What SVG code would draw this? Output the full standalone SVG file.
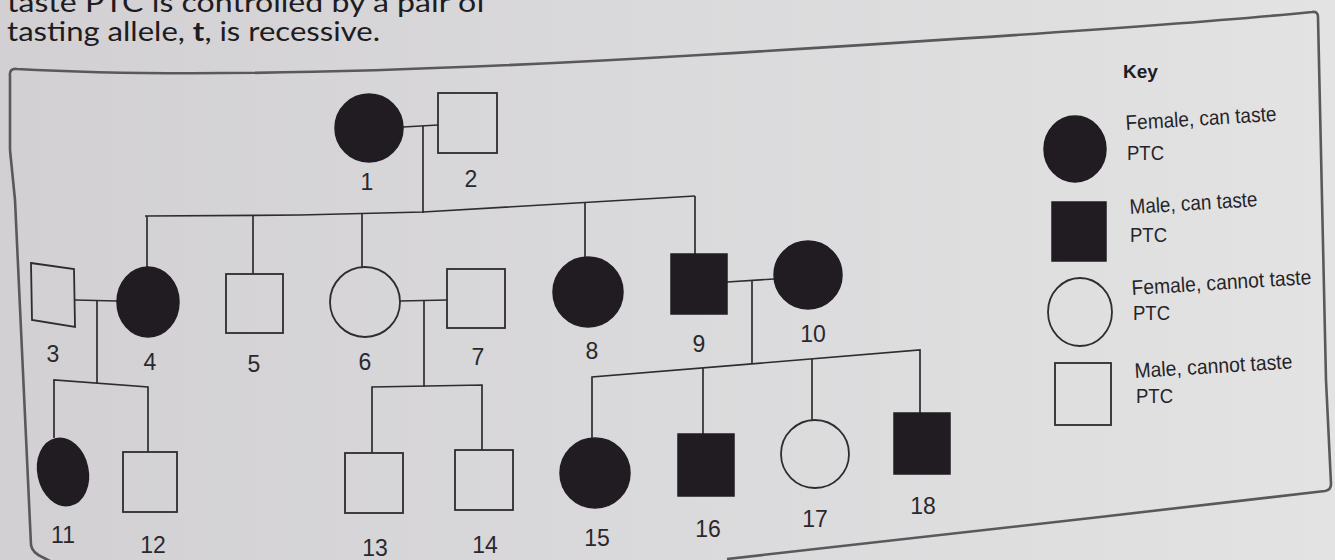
<svg xmlns="http://www.w3.org/2000/svg" width="1335" height="560" viewBox="0 0 1335 560">
<defs>
<linearGradient id="paper" x1="0" y1="0" x2="1" y2="0">
<stop offset="0" stop-color="#d2d0d3"/>
<stop offset="0.5" stop-color="#dad9db"/>
<stop offset="1" stop-color="#e3e3e3"/>
</linearGradient>
<style>
.hdr{font-family:Lato,"Open Sans","Liberation Sans",sans-serif;font-size:26px;fill:#1e1c20}
.frame{fill:none;stroke:#5a585c;stroke-width:2.6;stroke-linejoin:round}
.ln{fill:none;stroke:#2e2c30;stroke-width:1.7}
.aff{fill:#211c22;stroke:#211c22;stroke-width:1.5}
.un{fill:none;stroke:#2e2c30;stroke-width:1.8}
.num{font-family:"Liberation Sans",Arial,sans-serif;font-size:23px;fill:#2a282c;text-anchor:middle}
.key{font-family:"Liberation Sans",Arial,sans-serif;font-size:21px;fill:#262428}
.keyh{font-family:"Liberation Sans",Arial,sans-serif;font-size:19px;font-weight:bold;fill:#1e1c20}
</style>
</defs>
<rect x="0" y="0" width="1335" height="560" fill="url(#paper)"/>

<g id="header">
<text class="hdr" x="7" y="12" textLength="480" lengthAdjust="spacingAndGlyphs">taste PTC is controlled by a pair of</text>
<text class="hdr" x="7" y="41" textLength="373" lengthAdjust="spacingAndGlyphs">tasting allele, <tspan font-weight="bold">t</tspan>, is recessive.</text>
</g>

<path id="frame" class="frame" d="M 10 150 L 10 76 Q 9 68 17 69 Q 250 82 700 55 T 1312 12 Q 1318 11 1318 17 L 1326 380 L 1331 484 Q 1331 490 1325 491 L 1100 517 L 727 559 M 60 566 L 44 558 Q 32 553 31 545 L 15 200 L 10 150"/>

<g id="connectors">
<polyline class="ln" points="403,127 438,125"/>
<polyline class="ln" points="423,126 423,213"/>
<polyline class="ln" points="145,216 300,215 423,212 695,196"/>
<polyline class="ln" points="147,216 147,268"/>
<polyline class="ln" points="253,215 253,274"/>
<polyline class="ln" points="362,214 362,267"/>
<polyline class="ln" points="585,203 585,257"/>
<polyline class="ln" points="695,196 695,254"/>
<polyline class="ln" points="75,300 117,301"/>
<polyline class="ln" points="97,300 97,384"/>
<polyline class="ln" points="400,301 447,300"/>
<polyline class="ln" points="424,301 424,387"/>
<polyline class="ln" points="727,282 774,279"/>
<polyline class="ln" points="752,281 752,364"/>
<polyline class="ln" points="54,438 54,380 148,387 148,452"/>
<polyline class="ln" points="372,453 372,387 482,385 482,450"/>
<polyline class="ln" points="592,438 592,377 920,350 920,413"/>
<polyline class="ln" points="703,368 703,434"/>
<polyline class="ln" points="812,359 812,420"/>
</g>

<g id="node-1"><circle class="aff" cx="369" cy="128" r="34"/><text class="num" x="367" y="190">1</text></g>
<g id="node-2"><rect class="un" x="438" y="93" width="59" height="60"/><text class="num" x="471" y="187">2</text></g>
<g id="node-3"><polygon class="un" points="31,263 74,269 75,327 32,320"/><text class="num" x="53" y="362">3</text></g>
<g id="node-4"><ellipse class="aff" cx="148" cy="302" rx="31" ry="35"/><text class="num" x="150" y="370">4</text></g>
<g id="node-5"><rect class="un" x="226" y="274" width="57" height="59"/><text class="num" x="254" y="372">5</text></g>
<g id="node-6"><circle class="un" cx="365" cy="302" r="35"/><text class="num" x="365" y="370">6</text></g>
<g id="node-7"><rect class="un" x="447" y="269" width="58" height="59"/><text class="num" x="478" y="365">7</text></g>
<g id="node-8"><circle class="aff" cx="588" cy="292" r="35"/><text class="num" x="592" y="359">8</text></g>
<g id="node-9"><rect class="aff" x="671" y="254" width="56" height="60"/><text class="num" x="699" y="352">9</text></g>
<g id="node-10"><circle class="aff" cx="808" cy="275" r="34"/><text class="num" x="813" y="342">10</text></g>
<g id="node-11"><ellipse class="aff" cx="63" cy="472" rx="25" ry="34" transform="rotate(-12 63 472)"/><text class="num" x="63" y="543">11</text></g>
<g id="node-12"><rect class="un" x="123" y="452" width="54" height="60"/><text class="num" x="153" y="553">12</text></g>
<g id="node-13"><rect class="un" x="345" y="453" width="58" height="60"/><text class="num" x="375" y="556">13</text></g>
<g id="node-14"><rect class="un" x="455" y="450" width="58" height="60"/><text class="num" x="485" y="553">14</text></g>
<g id="node-15"><circle class="aff" cx="595" cy="473" r="35"/><text class="num" x="597" y="546">15</text></g>
<g id="node-16"><rect class="aff" x="678" y="434" width="56" height="62"/><text class="num" x="708" y="537">16</text></g>
<g id="node-17"><circle class="un" cx="815" cy="454" r="34"/><text class="num" x="815" y="527">17</text></g>
<g id="node-18"><rect class="aff" x="894" y="413" width="56" height="61"/><text class="num" x="923" y="514">18</text></g>

<g id="key">
<text class="keyh" x="1123" y="78">Key</text>
<ellipse class="aff" cx="1075" cy="149" rx="31" ry="33"/>
<text class="key" transform="rotate(-3.5 1126 130)" x="1126" y="130" textLength="151" lengthAdjust="spacingAndGlyphs">Female, can taste</text>
<text class="key" x="1127" y="160" textLength="37" lengthAdjust="spacingAndGlyphs">PTC</text>
<rect class="aff" x="1052" y="202" width="54" height="59"/>
<text class="key" transform="rotate(-3.5 1130 214)" x="1130" y="214" textLength="128" lengthAdjust="spacingAndGlyphs">Male, can taste</text>
<text class="key" x="1130" y="242" textLength="37" lengthAdjust="spacingAndGlyphs">PTC</text>
<ellipse class="un" cx="1080" cy="312" rx="32" ry="34"/>
<text class="key" transform="rotate(-3.5 1132 295)" x="1132" y="295" textLength="180" lengthAdjust="spacingAndGlyphs">Female, cannot taste</text>
<text class="key" x="1133" y="320" textLength="37" lengthAdjust="spacingAndGlyphs">PTC</text>
<rect class="un" x="1055" y="363" width="56" height="62"/>
<text class="key" transform="rotate(-3.5 1135 378)" x="1135" y="378" textLength="158" lengthAdjust="spacingAndGlyphs">Male, cannot taste</text>
<text class="key" x="1136" y="403" textLength="37" lengthAdjust="spacingAndGlyphs">PTC</text>
</g>
</svg>
